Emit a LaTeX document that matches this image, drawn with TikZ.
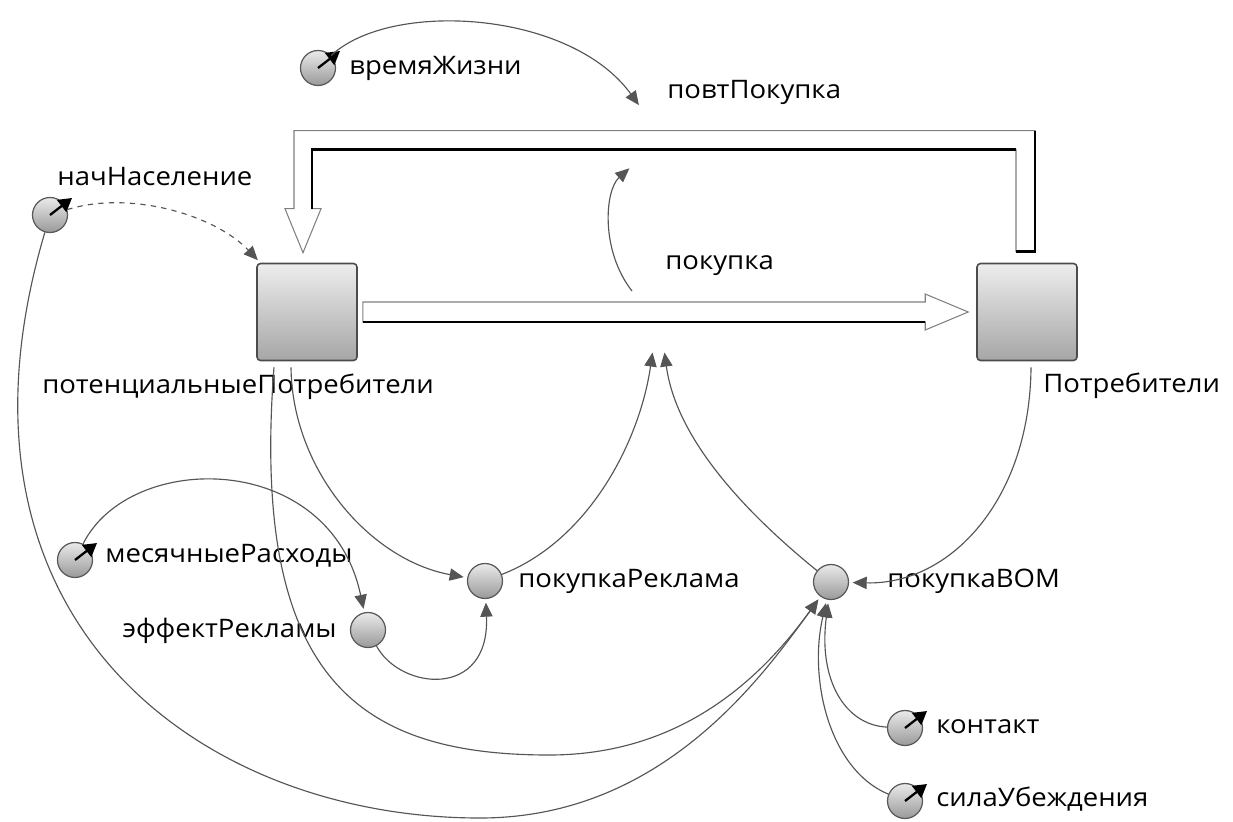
\documentclass[tikz,border=0pt]{standalone}
\usepackage{fontspec}
\setmainfont{Open Sans}[FakeStretch=1.08]
\usetikzlibrary{arrows.meta,calc}
\definecolor{linkgray}{HTML}{555555}
\definecolor{pipegray}{HTML}{808080}

\begin{document}
\begin{tikzpicture}[x=0.02cm,y=-0.02cm,
    link/.style={draw=linkgray,line width=0.65pt,
                 -{Triangle[length=8pt,width=7pt]},shorten >=2pt},
    stock/.style={rectangle,rounded corners=2pt,draw=black!70,line width=0.9pt,
                  top color=black!7,bottom color=black!35,
                  minimum width=2cm,minimum height=1.94cm,inner sep=0pt},
    aux/.style={circle,draw=black!65,line width=0.7pt,
                top color=black!8,bottom color=black!40,
                minimum size=0.7cm,inner sep=0pt},
    param/.style={aux},
    needle/.style={line width=1.3pt,-{Triangle[length=7.5pt,width=8.5pt]}},
    lbl/.style={font=\fontsize{14.5}{17}\selectfont,inner sep=0pt},
    pipe/.style={draw=pipegray,line width=0.6pt,fill=white},
    pipeedge/.style={draw=black,line width=1.5pt}]

  \useasboundingbox (0,0) rectangle (1233,821);

  % stocks
  \node[stock] (potStock) at (307,312) {};
  \node[stock] (potreb)   at (1027,312) {};

  % parameters and auxiliaries
  \node[param] (vremya)     at (318,68)  {};
  \node[param] (nach)       at (50,215)  {};
  \node[param] (mes)        at (75,560)  {};
  \node[aux]   (eff)        at (368,630) {};
  \node[aux]   (pokReklama) at (485,581) {};
  \node[aux]   (pokVOM)     at (831,582) {};
  \node[param] (kontakt)    at (905,728) {};
  \node[param] (sila)       at (905,801) {};

  \foreach \p in {vremya,nach,mes,kontakt,sila}
    \draw[needle] (\p.center) -- ++(22,-17);

  % labels
  \node[lbl,anchor=base west] (vremyaLbl)  at (349,74)   {времяЖизни};
  \node[lbl,anchor=base west] (povtLbl)    at (667,98)   {повтПокупка};
  \node[lbl,anchor=base west] (nachLbl)    at (57,185)   {начНаселение};
  \node[lbl,anchor=base west] (pokLbl)     at (665,269)  {покупка};
  \node[lbl,anchor=base west] (potLbl)     at (42,393)   {потенциальныеПотребители};
  \node[lbl,anchor=base west] (potrebLbl)  at (1043,392) {Потребители};
  \node[lbl,anchor=base west] (mesLbl)     at (105,562)  {месячныеРасходы};
  \node[lbl,anchor=base east] (effLbl)     at (337,637)  {эффектРекламы};
  \node[lbl,anchor=base west] (reklLbl)    at (518,587)  {покупкаРеклама};
  \node[lbl,anchor=base west] (vomLbl)     at (887,587)  {покупкаВОМ};
  \node[lbl,anchor=base west] (kontaktLbl) at (936,733)  {контакт};
  \node[lbl,anchor=base west] (silaLbl)    at (936,806)  {силаУбеждения};

  % flows
  \coordinate (fA) at ($(potStock.east)+(5,0)$);
  \coordinate (fB) at ($(potreb.west)+(-8,0)$);
  \draw[pipe] ($(fA)+(0,-10)$) -- ($(fB)+(-43,-10)$) -- ++(0,-8) -- (fB)
    -- ++(-43,18) -- ++(0,-8) -- ($(fA)+(0,10)$) -- cycle;
  \draw[pipeedge] ($(fA)+(0,10)$) -- ($(fB)+(-43,10)$);

  \coordinate (rA) at ($(potreb.north)+(-2,-11)$);
  \coordinate (rB) at ($(potStock.north)+(-4,-10)$);
  \draw[pipe] ($(rA)+(10,0)$) |- ($(rB)+(-9,-122)$) -- ($(rB)+(-9,-44)$)
    -- ++(-9,0) -- (rB) -- ++(18,-44) -- ++(-9,0)
    |- ($(rA)+(-9,-102)$) -- ($(rA)+(-9,0)$) -- cycle;
  \draw[pipeedge] ($(rB)+(9,-44)$) |- ($(rA)+(-9,-102)$);
  \draw[pipeedge] ($(rA)+(10,-121)$) |- ($(rA)+(-9,0)$);

  % link ends on the flows
  \coordinate (povtIn)   at (641,108);
  \coordinate (valveOut) at (632,291);
  \coordinate (valveIn)  at (632,166);
  \coordinate (pokIn1)   at (653,349);
  \coordinate (pokIn2)   at (664,349);

  % links
  \draw[link,dashed] (nach) .. controls (130,190) and (215,215) .. (potStock);
  \draw[link] (vremya) .. controls (390,0) and (570,10) .. (povtIn);
  \draw[link] (valveOut) .. controls (600,250) and (605,190) .. (valveIn);
  \draw[link] ($(potStock.south)+(-16,6)$) .. controls (292,470) and (370,560) .. (pokReklama);
  \draw[link] ($(potStock.south)+(-33,6)$) .. controls (250,680) and (360,755) .. (549,755)
    .. controls (680,755) and (760,680) .. (pokVOM);
  \draw[link] (nach) .. controls (-70,620) and (200,818) .. (480,818)
    .. controls (660,818) and (760,680) .. (pokVOM);
  \draw[link] (pokReklama) .. controls (590,540) and (640,440) .. (pokIn1);
  \draw[link] (pokVOM) .. controls (730,500) and (675,430) .. (pokIn2);
  \draw[link] (mes) .. controls (130,450) and (330,450) .. (eff);
  \draw[link] (eff) .. controls (400,690) and (490,700) .. (pokReklama);
  \draw[link] ($(potreb.south)+(4,6)$) .. controls (1030,500) and (950,585) .. (pokVOM);
  \draw[link] (kontakt) .. controls (845,725) and (818,680) .. (pokVOM);
  \draw[link] (sila) .. controls (830,770) and (808,680) .. (pokVOM);
\end{tikzpicture}
\end{document}
